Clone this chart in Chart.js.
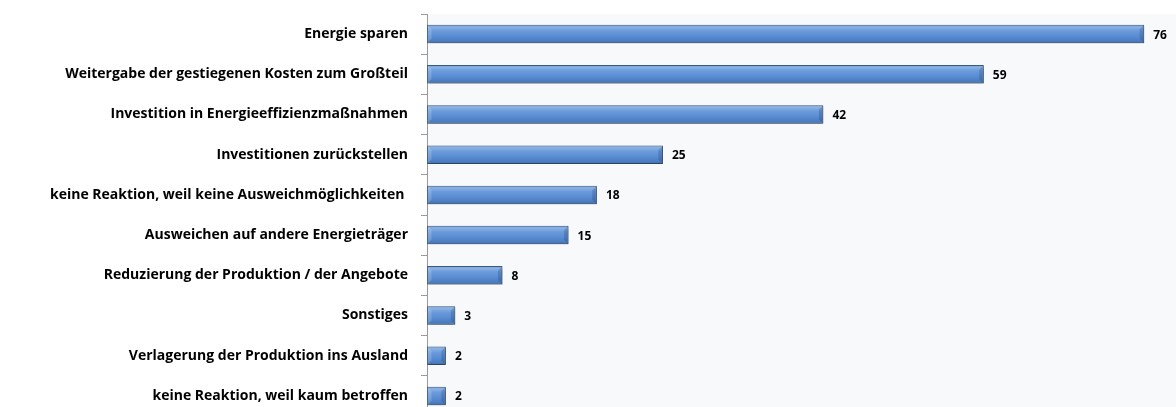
<!DOCTYPE html>
<html><head><meta charset="utf-8">
<script src="https://cdn.jsdelivr.net/npm/chart.js@4/dist/chart.umd.min.js"></script>
<style>
html,body{margin:0;padding:0;background:#fff;overflow:hidden;width:1176px;height:407px;}
canvas{position:absolute;left:0;top:0;}
</style></head>
<body><canvas id="c" width="1182" height="416"></canvas>
<script>
const categories = [
  "Energie sparen",
  "Weitergabe der gestiegenen Kosten zum Großteil",
  "Investition in Energieeffizienzmaßnahmen",
  "Investitionen zurückstellen",
  "keine Reaktion, weil keine Ausweichmöglichkeiten ",
  "Ausweichen auf andere Energieträger",
  "Reduzierung der Produktion / der Angebote",
  "Sonstiges",
  "Verlagerung der Produktion ins Ausland",
  "keine Reaktion, weil kaum betroffen"
];
const values = [76, 59, 42, 25, 18, 15, 8, 3, 2, 2];
const axisMax = 80;
const BAR_PCT = 0.46;

const FONT = "'Open Sans', Lato, sans-serif";

const bgPlugin = {
  id: 'bg',
  beforeDraw(chart) {
    const {ctx, chartArea: a} = chart;
    ctx.save();
    ctx.fillStyle = '#f8f9fb';
    ctx.fillRect(a.left, a.top, a.right - a.left, a.bottom - a.top);
    ctx.restore();
  }
};
const shadowPlugin = {
  id: 'shadow',
  beforeDatasetDraw(chart) {
    const ctx = chart.ctx;
    ctx.save();
    ctx.shadowColor = 'rgba(0,0,0,0.3)';
    ctx.shadowBlur = 3;
    ctx.shadowOffsetX = 1;
    ctx.shadowOffsetY = 2;
  },
  afterDatasetDraw(chart) {
    chart.ctx.restore();
    // bevel on the bar ends
    const ctx = chart.ctx;
    const meta = chart.getDatasetMeta(0);
    ctx.save();
    meta.data.forEach(el => {
      const h = el.height, top = el.y - h / 2 + 0.5, bot = el.y + h / 2 - 0.5;
      const r = el.x - 0.5, l = el.base + 0.5;
      const b = Math.min(4, (r - l) / 2);
      ctx.fillStyle = 'rgba(20,45,90,0.22)';
      ctx.beginPath();
      ctx.moveTo(r, top); ctx.lineTo(r, bot); ctx.lineTo(r - b, bot - b); ctx.lineTo(r - b, top + b); ctx.closePath();
      ctx.fill();
      ctx.fillStyle = 'rgba(255,255,255,0.18)';
      ctx.beginPath();
      ctx.moveTo(l, top); ctx.lineTo(l + b, top + b); ctx.lineTo(l + b, bot - b); ctx.lineTo(l, bot); ctx.closePath();
      ctx.fill();
    });
    ctx.restore();
  }
};
const labelPlugin = {
  id: 'vals',
  afterDatasetsDraw(chart) {
    const {ctx} = chart;
    const meta = chart.getDatasetMeta(0);
    ctx.save();
    ctx.font = "bold 12px " + FONT;
    ctx.fillStyle = '#000';
    ctx.textBaseline = 'middle';
    ctx.textAlign = 'left';
    meta.data.forEach((el, i) => {
      ctx.fillText(String(values[i]), el.x + 9, el.y + 1);
    });
    ctx.restore();
  }
};

function barGradient(context) {
  const chart = context.chart;
  const ys = chart.scales && chart.scales.y;
  if (!chart.chartArea || !ys) return '#5a8acb';
  const cy = ys.getPixelForValue(context.dataIndex);
  const step = (chart.chartArea.bottom - chart.chartArea.top) / categories.length;
  const h = step * BAR_PCT;
  const top = cy - h / 2, bot = cy + h / 2;
  if (!isFinite(top) || !isFinite(bot) || bot <= top) return '#5a8acb';
  const g = chart.ctx.createLinearGradient(0, top, 0, bot);
  g.addColorStop(0, '#6f99d3');
  g.addColorStop(0.12, '#8cb2e3');
  g.addColorStop(0.32, '#6b9bdb');
  g.addColorStop(0.6, '#5a8dd2');
  g.addColorStop(0.88, '#4a7cc0');
  g.addColorStop(1, '#3d69a6');
  return g;
}

new Chart(document.getElementById('c'), {
  type: 'bar',
  data: {
    labels: categories,
    datasets: [{
      data: values,
      backgroundColor: barGradient,
      borderColor: '#3a5b88',
      borderWidth: 1,
      borderSkipped: false,
      categoryPercentage: 1,
      barPercentage: BAR_PCT
    }]
  },
  options: {
    indexAxis: 'y',
    responsive: false,
    animation: false,
    events: [],
    layout: {padding: {top: 14, right: 0, bottom: 0, left: 0}},
    plugins: {legend: {display: false}, tooltip: {enabled: false}},
    scales: {
      x: {
        display: false,
        min: 0,
        max: axisMax
      },
      y: {
        offset: true,
        afterFit(scale) {
          scale.width = 427;
          scale.paddingTop = 0;
          scale.paddingBottom = 0;
        },
        grid: {
          offset: true,
          drawOnChartArea: false,
          drawTicks: true,
          tickLength: 6,
          color: '#9a9a9a'
        },
        border: {display: true, color: '#9a9a9a', width: 1},
        ticks: {
          color: '#000',
          padding: 13,
          autoSkip: false,
          font: {family: FONT, weight: 'bold', size: 14}
        }
      }
    }
  },
  plugins: [bgPlugin, shadowPlugin, labelPlugin]
});
</script></body></html>
